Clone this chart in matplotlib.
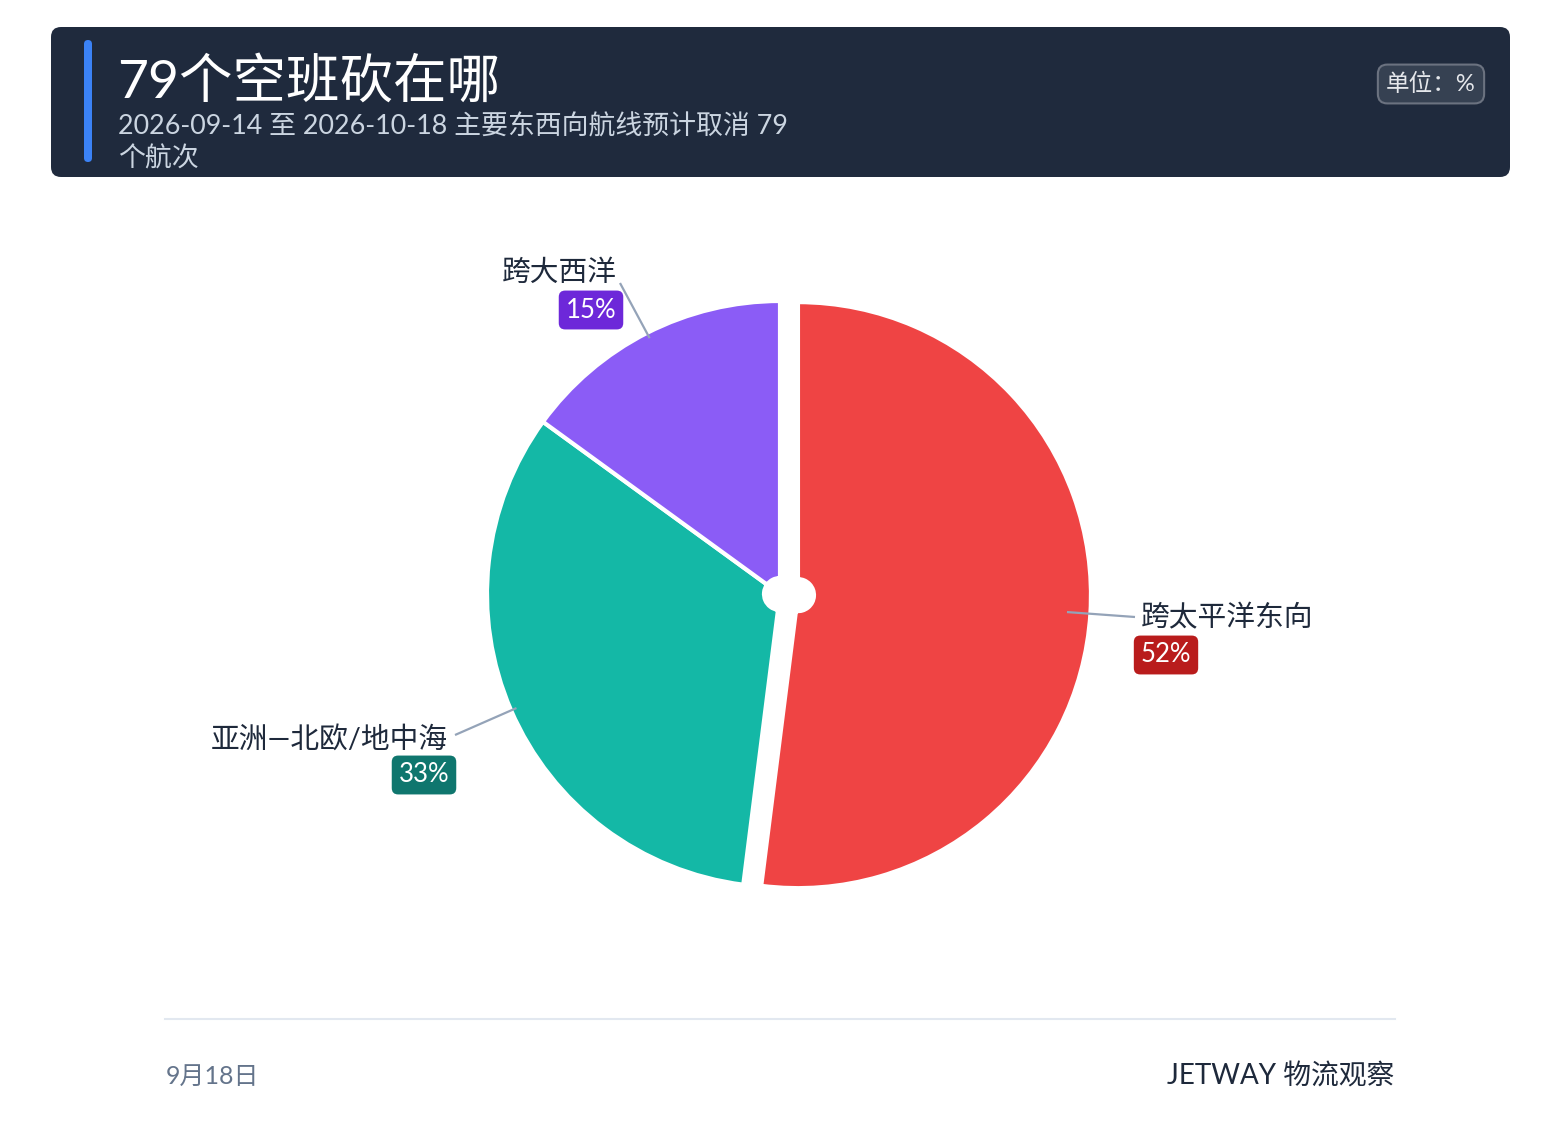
import numpy as np
import matplotlib
matplotlib.use("Agg")
import matplotlib.pyplot as plt
from matplotlib.patches import FancyBboxPatch

plt.rcParams["font.family"] = ["Lato", "Noto Sans CJK SC", "DejaVu Sans"]

# data
routes = ["跨太平洋东向", "亚洲—北欧/地中海", "跨大西洋"]
shares = [52, 33, 15]
share_labels = ["52%", "33%", "15%"]

title = "79个空班砍在哪"
subtitle_lines = ["2026-09-14 至 2026-10-18 主要东西向航线预计取消 79", "个航次"]
unit_text = "单位：%"
date_text = "9月18日"
source_text = "JETWAY 物流观察"

# style
slice_colors = ["#ef4444", "#14b8a6", "#8b5cf6"]
badge_colors = ["#b91c1c", "#0f766e", "#6d28d9"]
W, H = 1561, 1145
NAVY = "#1e293b"


def Y(y):
    # pixel row (from top) -> data y
    return H - y


fig = plt.figure(figsize=(W / 100, H / 100), dpi=100)
ax = fig.add_axes([0, 0, 1, 1])

# pie
R = 293
center = (780, Y(594))
wedges, _ = ax.pie(shares, colors=slice_colors, startangle=90,
                   counterclock=False, radius=R, center=center,
                   explode=[18, 0, 0],
                   wedgeprops=dict(width=R - 16, edgecolor="white",
                                   linewidth=3))

ax.set_xlim(0, W)
ax.set_ylim(0, H)
ax.set_aspect("auto")
ax.axis("off")

# header
ax.add_patch(FancyBboxPatch((51, Y(177)), 1459, 150,
                            boxstyle="round,pad=0,rounding_size=10",
                            fc="#1f2a3d", ec="none", zorder=1))
ax.add_patch(FancyBboxPatch((84, Y(162)), 8, 122,
                            boxstyle="round,pad=0,rounding_size=4",
                            fc="#3b82f6", ec="none", zorder=2))
ax.text(117, Y(82), title, color="white", fontsize=38.5,
        va="center", ha="left", zorder=3)
for i, line in enumerate(subtitle_lines):
    ax.text(118, Y(127 + 32 * i), line, color="#cbd5e1", fontsize=19.4,
            va="center", ha="left", zorder=3)
ax.text(1431, Y(84), unit_text, color="#e5e7eb", fontsize=17,
        va="center", ha="center", zorder=3,
        bbox=dict(boxstyle="round,pad=0.35,rounding_size=0.4",
                  fc="#364152", ec="#6b7280", lw=1.5))

# labels with leader lines
leader_r = [0.92, 0.98, 0.98]
leader_end = [(1135, 617), (455, 735), (620, 283)]
name_pos = [(1141, 618, "left"), (448, 739, "right"), (617, 273, "right")]
badge_pos = [(1166, 655), (424, 775), (591, 310)]

for i, w in enumerate(wedges):
    mid = np.deg2rad((w.theta1 + w.theta2) / 2)
    cx, cy = w.center
    x0 = cx + leader_r[i] * w.r * np.cos(mid)
    y0 = cy + leader_r[i] * w.r * np.sin(mid)
    ex, ey = leader_end[i]
    ax.plot([x0, ex], [y0, Y(ey)], color="#94a3b8", lw=1.6,
            solid_capstyle="butt", zorder=4)
    nx, ny, ha = name_pos[i]
    ax.text(nx, Y(ny), routes[i], color=NAVY, fontsize=20.7,
            ha=ha, va="center", zorder=5)
    bx, by = badge_pos[i]
    ax.text(bx, Y(by), share_labels[i], color="white", fontsize=18.5,
            ha="center", va="center", zorder=5,
            bbox=dict(boxstyle="round,pad=0.27,rounding_size=0.25",
                      fc=badge_colors[i], ec="none"))

# footer
ax.plot([165, 1395], [Y(1019), Y(1019)], color="#e2e8f0", lw=1.5)
ax.text(166, Y(1076), date_text, color="#64748b", fontsize=18,
        ha="left", va="center")
ax.text(1394, Y(1076), source_text, color=NAVY, fontsize=20,
        ha="right", va="center")

fig.savefig("out.png", dpi=100, facecolor="white")
